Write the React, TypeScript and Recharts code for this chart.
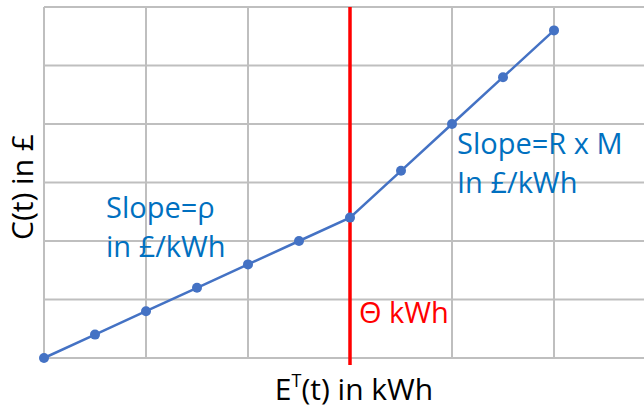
import { LineChart, Line, XAxis, YAxis, CartesianGrid, ReferenceLine } from 'recharts'

// energy in half-grid steps, cost in grid units
const energy = [0, 1, 2, 3, 4, 5, 6, 7, 8, 9, 10]
const cost = [0, 0.4, 0.8, 1.2, 1.6, 2.0, 2.4, 3.2, 4.0, 4.8, 5.6]
const xTicks = [0, 2, 4, 6, 8, 10, 12]
const yTicks = [0, 1, 2, 3, 4, 5, 6]
const threshold = 6

const data = energy.map((e, i) => ({ e, c: cost[i] }))

const FONT = '"Open Sans", sans-serif'
const BLUE_TEXT = '#0070C0'

function RedLine(props: any) {
  const top = Math.min(props.y1, props.y2)
  const bottom = Math.max(props.y1, props.y2)
  return <line x1={props.x1} x2={props.x2} y1={top} y2={bottom + 7} stroke="#FF0000" strokeWidth={3.5} />
}

const NoTick = () => <g />

export default function App() {
  return (
    <div style={{ position: 'relative', width: 644, height: 409, overflow: 'hidden', background: '#fff' }}>
      <style>{'body{margin:0}'}</style>
      <LineChart width={670} height={409} data={data} margin={{ top: 7, right: 14, bottom: 51, left: 44 }}>
        <CartesianGrid stroke="#BFBFBF" strokeWidth={2} />
        <XAxis dataKey="e" type="number" domain={[0, 12]} ticks={xTicks} tick={NoTick} axisLine={false} tickLine={false} height={0} interval={0} />
        <YAxis type="number" domain={[0, 6]} ticks={yTicks} tick={NoTick} axisLine={false} tickLine={false} width={0} interval={0} />
        <Line
          dataKey="c"
          stroke="#4472C4"
          strokeWidth={2.5}
          dot={{ r: 5, fill: '#4472C4', stroke: '#4472C4', strokeWidth: 0 }}
          isAnimationActive={false}
        />
        <ReferenceLine x={threshold} shape={RedLine} />
      </LineChart>
      <svg width={644} height={409} style={{ position: 'absolute', left: 0, top: 0, pointerEvents: 'none' }} fontFamily={FONT}>
        <text x={106} y={218} fontSize={29} fill={BLUE_TEXT}>Slope=ρ</text>
        <text x={106} y={257} fontSize={29} fill={BLUE_TEXT}>in £/kWh</text>
        <text x={457} y={154} fontSize={29} fill={BLUE_TEXT}>Slope=R x M</text>
        <text x={457} y={193} fontSize={29} fill={BLUE_TEXT}>In £/kWh</text>
        <text x={359} y={323} fontSize={29} fill="#FF0000">Θ kWh</text>
        <text x={354} y={400} fontSize={30} fill="#000" textAnchor="middle">
          E<tspan fontSize={18} dy={-13}>T</tspan><tspan dy={13}>(t) in kWh</tspan>
        </text>
        <text x={33} y={187} fontSize={30} fill="#000" textAnchor="middle" transform="rotate(-90 33 187)">C(t) in £</text>
      </svg>
    </div>
  )
}
